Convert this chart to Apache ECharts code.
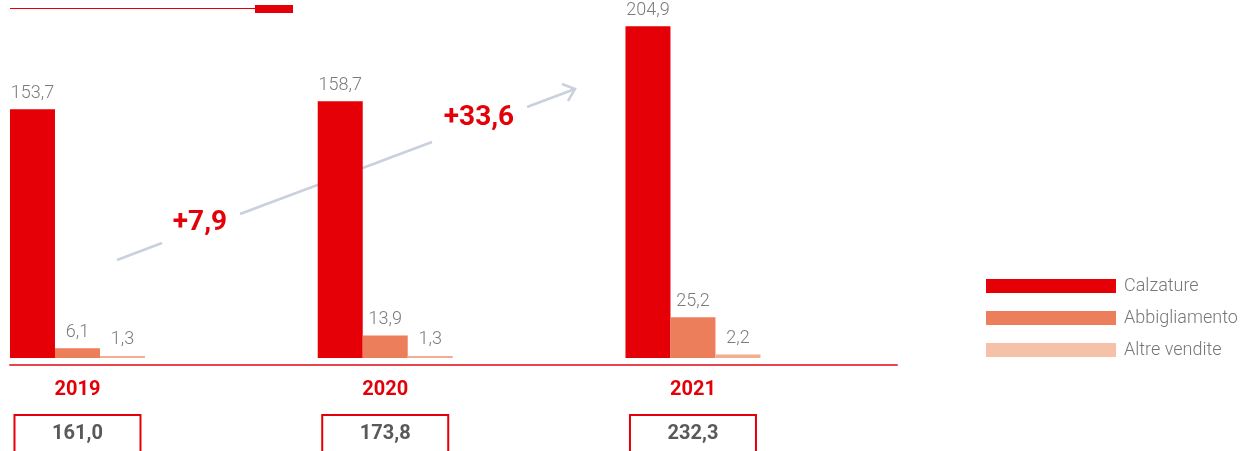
<!DOCTYPE html>
<html>
<head>
<meta charset="utf-8">
<script src="https://cdn.jsdelivr.net/npm/echarts@6/dist/echarts.min.js"></script>
<style>
  html, body { margin: 0; padding: 0; background: #fff; }
  #chart { width: 1245px; height: 451px; }
</style>
</head>
<body>
<div id="chart"></div>
<script>
// dati
var anni = ['2019', '2020', '2021'];
var calzature = [153.7, 158.7, 204.9];
var abbigliamento = [6.1, 13.9, 25.2];
var altreVendite = [1.3, 1.3, 2.2];
var totali = [161.0, 173.8, 232.3];
var variazioni = ['+7,9', '+33,6'];

var rosso = '#e40008';
var virgola = function (v) { return v.toFixed(1).replace('.', ','); };

var chart = echarts.init(document.getElementById('chart'));

var labelBar = {
  show: true,
  position: 'top',
  distance: 7,
  color: '#7b7b7b',
  fontSize: 18,
  fontWeight: 300,
  fontFamily: 'Roboto',
  formatter: function (p) { return virgola(p.value[1]); }
};

var serie = function (nome, valori, colore) {
  return {
    name: nome,
    type: 'bar',
    xAxisIndex: 0,
    barWidth: 45,
    barGap: '0%',
    itemStyle: { color: colore },
    label: labelBar,
    data: anni.map(function (a, i) { return [Number(a), valori[i]]; })
  };
};

var xMin = 2018.7807, xMax = 2021.663;
var valoriAnni = anni.map(Number);

var option = {
  animation: false,
  textStyle: { fontFamily: 'Roboto' },
  grid: { left: 10, right: 348, top: 10, bottom: 86, outerBoundsMode: 'none', containLabel: false },
  legend: {
    orient: 'vertical',
    left: 986,
    top: 277,
    padding: 0,
    itemWidth: 130,
    itemHeight: 14,
    itemGap: 14,
    icon: 'rect',
    textStyle: { color: '#777', fontSize: 18, fontWeight: 300, padding: [0, 0, 0, 3] },
    data: [
      { name: 'Calzature' },
      { name: 'Abbigliamento' },
      { name: 'Altre vendite', itemStyle: { color: '#f5c1a9' } }
    ]
  },
  xAxis: [
    {
      type: 'value',
      min: xMin,
      max: xMax,
      splitLine: { show: false },
      axisTick: { show: false },
      axisLine: { show: true, onZero: false, lineStyle: { color: '#e8454e', width: 2 } },
      axisLabel: {
        customValues: valoriAnni,
        margin: 15,
        color: rosso,
        fontSize: 20,
        fontWeight: 'bold',
        lineHeight: 20,
        formatter: function (v) { return String(Math.round(v)); }
      }
    },
    {
      type: 'value',
      position: 'bottom',
      min: xMin,
      max: xMax,
      splitLine: { show: false },
      axisTick: { show: false },
      axisLine: { show: false },
      axisLabel: {
        customValues: valoriAnni,
        margin: 50,
        color: '#58595b',
        fontSize: 20,
        fontWeight: 'bold',
        width: 126,
        height: 38,
        lineHeight: 38,
        align: 'center',
        borderColor: rosso,
        borderWidth: 2,
        formatter: function (v) {
          return virgola(totali[valoriAnni.indexOf(Math.round(v))]);
        }
      }
    }
  ],
  yAxis: {
    type: 'value',
    min: -4.3,
    max: 215,
    show: false
  },
  graphic: [
    // testata
    { type: 'line', z: 0, shape: { x1: 10, y1: 8.5, x2: 255, y2: 8.5 }, style: { stroke: rosso, lineWidth: 1 } },
    { type: 'rect', z: 0, shape: { x: 255, y: 5, width: 38, height: 8 }, style: { fill: rosso } },
    // freccia
    { type: 'line', z: 0, shape: { x1: 117, y1: 260, x2: 162, y2: 243 }, style: { stroke: '#c9d1df', lineWidth: 2.5 } },
    { type: 'line', z: 0, shape: { x1: 240, y1: 214, x2: 432, y2: 142 }, style: { stroke: '#c9d1df', lineWidth: 2.5 } },
    { type: 'line', z: 0, shape: { x1: 527, y1: 107, x2: 575, y2: 89 }, style: { stroke: '#c9d1df', lineWidth: 2.5 } },
    { type: 'polyline', z: 0, shape: { points: [[562, 84], [575, 89], [568, 101]] }, style: { stroke: '#c9d1df', lineWidth: 2.5, fill: null } },
    { type: 'text', z: 5, x: 200, y: 223, style: { text: variazioni[0], fill: rosso, font: 'bold 28px Roboto', align: 'center', verticalAlign: 'middle' } },
    { type: 'text', z: 5, x: 479, y: 118, style: { text: variazioni[1], fill: rosso, font: 'bold 28px Roboto', align: 'center', verticalAlign: 'middle' } }
  ],
  series: [
    serie('Calzature', calzature, '#e40006'),
    serie('Abbigliamento', abbigliamento, '#ec7e5b'),
    serie('Altre vendite', altreVendite, '#f3ae90')
  ]
};

chart.setOption(option);
</script>
</body>
</html>
